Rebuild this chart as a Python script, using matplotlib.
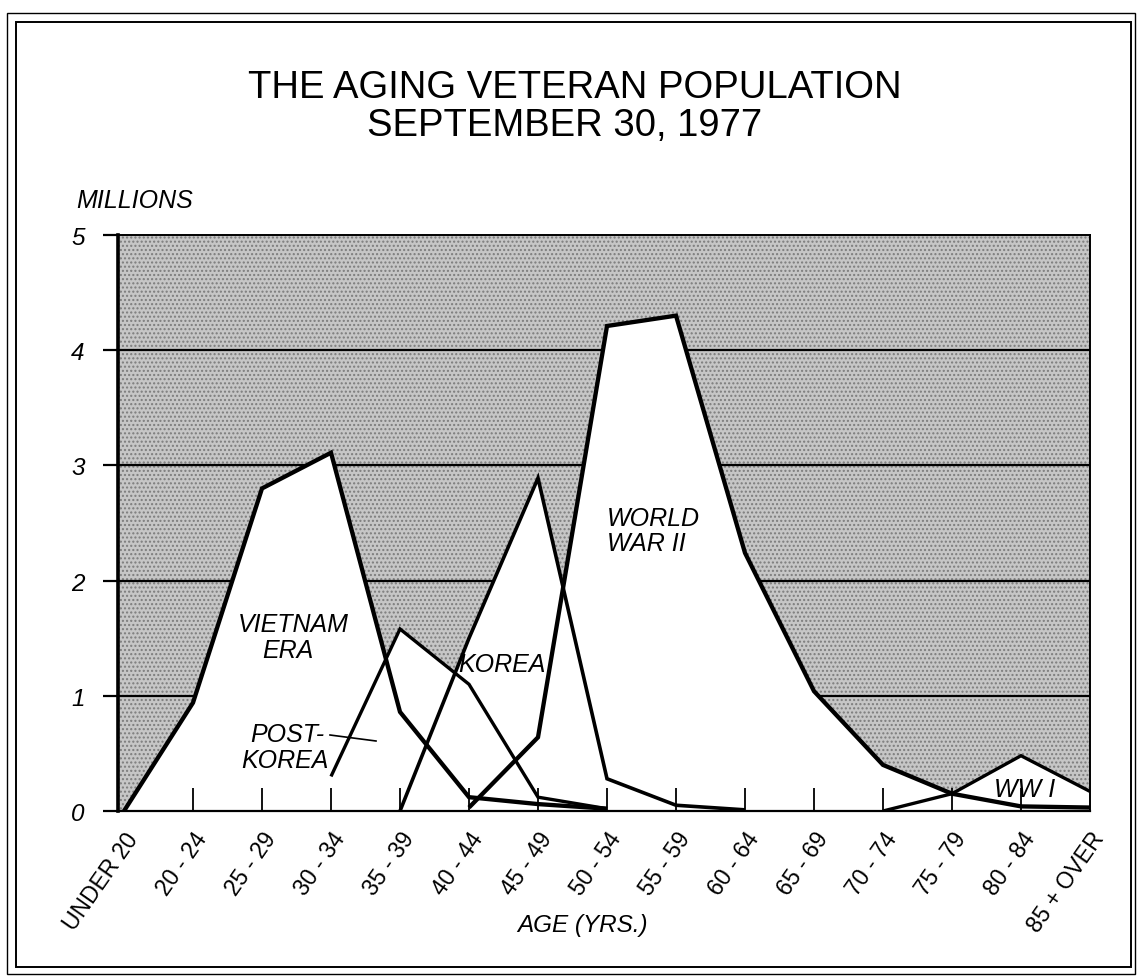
import matplotlib
matplotlib.use("Agg")
import matplotlib.pyplot as plt
import numpy as np
from matplotlib.patches import Rectangle
from matplotlib.lines import Line2D

# ---------------- data ----------------
categories = ["UNDER 20", "20 - 24", "25 - 29", "30 - 34", "35 - 39", "40 - 44",
              "45 - 49", "50 - 54", "55 - 59", "60 - 64", "65 - 69", "70 - 74",
              "75 - 79", "80 - 84", "85 + OVER"]

vietnam_start = 0
vietnam = [0.0, 0.94, 2.80, 3.11, 0.86, 0.12, 0.06, 0.02]

post_korea_start = 3
post_korea = [0.30, 1.58, 1.10, 0.12, 0.02]

korea_start = 4
korea = [0.0, 1.50, 2.89, 0.28, 0.05, 0.01]

ww2_start = 5
ww2 = [0.03, 0.64, 4.21, 4.30, 2.24, 1.04, 0.40, 0.15, 0.04, 0.03]

ww1_start = 11
ww1 = [0.0, 0.15, 0.48, 0.17]

y_ticks = [0, 1, 2, 3, 4, 5]

# ---------------- figure ----------------
W, H = 1137, 978
plt.rcParams["font.family"] = ["Liberation Sans", "DejaVu Sans"]
fig = plt.figure(figsize=(W / 100, H / 100), dpi=100)


def fx(px):
    return px / W


def fy(py):
    return 1 - py / H


ax = fig.add_axes([fx(118), fy(812), (1090 - 118) / W, (812 - 236) / H])
ax.set_xlim(-0.087, 14)
ax.set_ylim(0, 5)

# stippled background
ax.set_facecolor("white")
bg = Rectangle((-0.087, 0), 14.087, 5, facecolor="#c6c6c6", edgecolor="#7c7c7c",
               hatch="....", lw=0, zorder=0.5)
ax.add_patch(bg)

for v in y_ticks[1:-1]:
    ax.axhline(v, color="black", lw=1.6, zorder=1)

series = [
    (vietnam_start, vietnam, 3.1),
    (post_korea_start, post_korea, 2.4),
    (korea_start, korea, 2.6),
    (ww2_start, ww2, 3.1),
    (ww1_start, ww1, 2.4),
]
for start, vals, lw in series:
    xs = np.arange(start, start + len(vals))
    ax.fill_between(xs, 0, vals, color="white", lw=0, zorder=2)
for start, vals, lw in series:
    xs = np.arange(start, start + len(vals))
    ax.plot(xs, vals, color="black", lw=lw, zorder=3, solid_joinstyle="miter",
            solid_capstyle="butt")

# spines
ax.spines["left"].set_linewidth(2.6)
ax.spines["bottom"].set_linewidth(1.6)
ax.spines["top"].set_linewidth(1.4)
ax.spines["right"].set_linewidth(1.4)
ax.set_axisbelow(False)

# x ticks
ax.set_xticks(range(len(categories)))
ax.set_xticklabels(categories, rotation=55, ha="right", va="top",
                   rotation_mode="anchor", fontsize=16.5)
ax.tick_params(axis="x", direction="in", length=16.5, width=1.3, pad=12)
xt = ax.xaxis.get_major_ticks()
xt[0].tick1line.set_visible(False)
xt[-1].tick1line.set_visible(False)

# y ticks
ax.set_yticks(y_ticks)
ax.set_yticklabels([str(v) for v in y_ticks], fontsize=17.5, style="italic")
ax.tick_params(axis="y", direction="out", length=11, width=1.6, pad=13)

# ---------------- texts ----------------
fig.text(fx(575), fy(98), "THE AGING VETERAN POPULATION", ha="center",
         va="baseline", fontsize=27.5)
fig.text(fx(565), fy(136), "SEPTEMBER 30, 1977", ha="center", va="baseline",
         fontsize=27.5)
fig.text(fx(76), fy(208), "MILLIONS", ha="left", va="baseline", fontsize=18,
         style="italic")
fig.text(fx(583), fy(932), "AGE (YRS.)", ha="center", va="baseline",
         fontsize=17.5, style="italic")

ann = dict(fontsize=18, style="italic", va="baseline")
fig.text(fx(293), fy(632), "VIETNAM", ha="center", **ann)
fig.text(fx(288), fy(658), "ERA", ha="center", **ann)
fig.text(fx(287), fy(742), "POST-", ha="center", **ann)
fig.text(fx(285), fy(768), "KOREA", ha="center", **ann)
fig.text(fx(502), fy(672), "KOREA", ha="center", **ann)
fig.text(fx(607), fy(526), "WORLD", ha="left", **ann)
fig.text(fx(607), fy(551), "WAR II", ha="left", **ann)
fig.text(fx(1025), fy(797), "WW I", ha="center", **ann)

fig.add_artist(Line2D([fx(330), fx(376)], [fy(736), fy(742)], color="black",
                      lw=1.2, transform=fig.transFigure))

# page frame
fig.add_artist(Rectangle((fx(16), fy(968)), (1131 - 16) / W, (968 - 23) / H,
                         transform=fig.transFigure, fill=False, lw=1.4,
                         edgecolor="black"))
fig.add_artist(Rectangle((fx(7), fy(975)), (1135 - 7) / W, (975 - 14) / H,
                         transform=fig.transFigure, fill=False, lw=1.0,
                         edgecolor="black"))

fig.savefig("out.png", dpi=100)
